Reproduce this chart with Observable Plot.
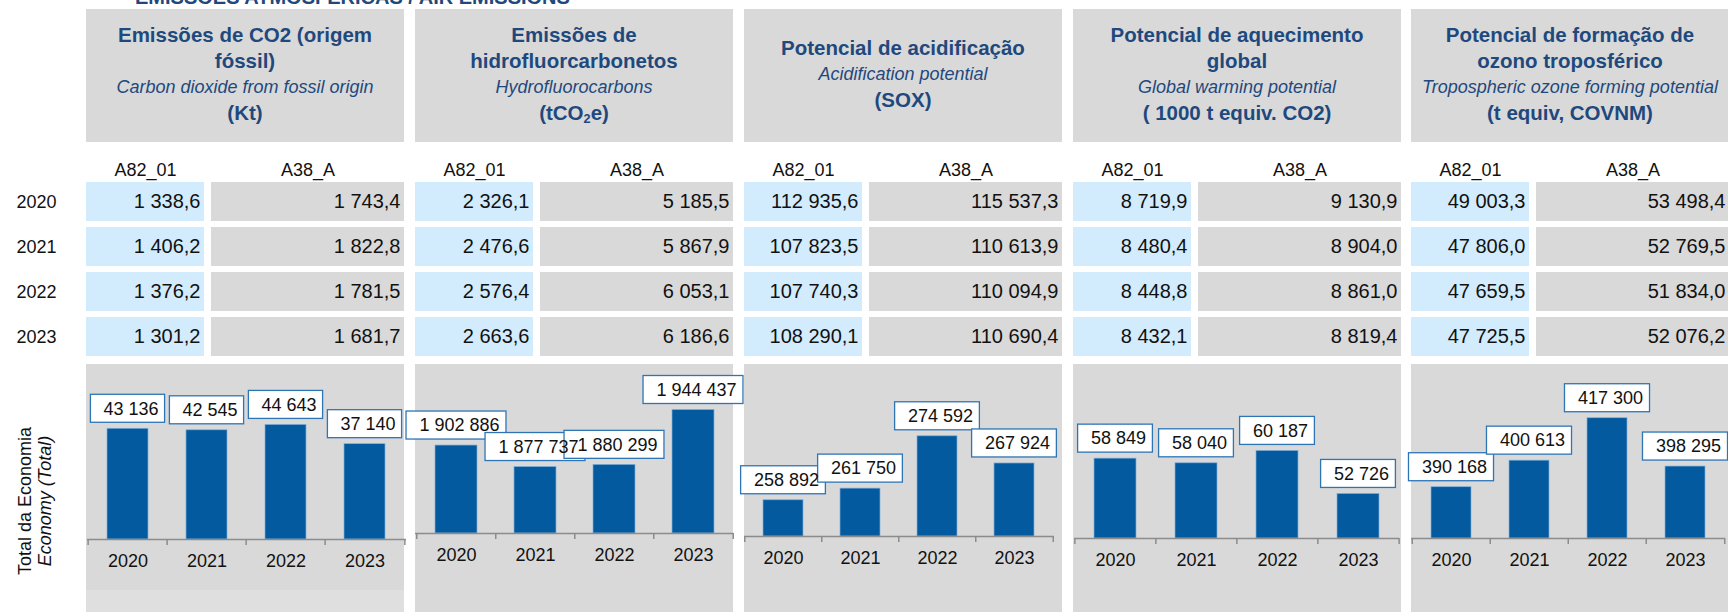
<!DOCTYPE html>
<html><head><meta charset="utf-8">
<script src="https://cdn.jsdelivr.net/npm/d3@7"></script>
<script src="https://cdn.jsdelivr.net/npm/@observablehq/plot@0.6"></script>
<style>
html,body{margin:0;padding:0;background:#fff;}
#root{position:relative;width:1728px;height:612px;overflow:hidden;font-family:"Liberation Sans",Arial,sans-serif;}
.abs{position:absolute;}
.abs svg{overflow:visible;max-width:none;}
.hdr{background:#d9d9d9;display:flex;flex-direction:column;justify-content:center;align-items:center;text-align:center;color:#1f497d;line-height:26px;box-sizing:border-box;padding-bottom:3px;}
.hdr .b{font-weight:bold;font-size:20.5px;white-space:nowrap;}
.hdr .i{font-style:italic;font-size:18px;white-space:nowrap;}
.hdr sub{font-size:0.62em;vertical-align:-0.25em;line-height:0;}
.title{font-weight:bold;font-size:20px;color:#1f497d;white-space:nowrap;}
.side{width:220px;line-height:20px;font-size:18px;text-align:center;color:#111;transform:rotate(-90deg);transform-origin:center center;}
</style></head><body><div id="root"></div>
<script>
// ---------- data ----------
const chartTitle = "EMISSÕES ATMOSFÉRICAS / AIR EMISSIONS";
const years = ["2020", "2021", "2022", "2023"];
const colLabels = ["A82_01", "A38_A"];
const titlePT = [
  ["Emissões de CO2 (origem", "fóssil)"],
  ["Emissões de", "hidrofluorcarbonetos"],
  ["Potencial de acidificação"],
  ["Potencial de aquecimento", "global"],
  ["Potencial de formação de", "ozono troposférico"]
];
const titleEN = ["Carbon dioxide from fossil origin", "Hydrofluorocarbons", "Acidification potential", "Global warming potential", "Tropospheric ozone forming potential"];
const units = ["(Kt)", "(tCO₂e)", "(SOX)", "( 1000 t equiv. CO2)", "(t equiv, COVNM)"];
const rowLabelPT = "Total da Economia";
const rowLabelEN = "Economy (Total)";

const a82_01 = [
  [1338.6, 1406.2, 1376.2, 1301.2],
  [2326.1, 2476.6, 2576.4, 2663.6],
  [112935.6, 107823.5, 107740.3, 108290.1],
  [8719.9, 8480.4, 8448.8, 8432.1],
  [49003.3, 47806.0, 47659.5, 47725.5]
];
const a38_A = [
  [1743.4, 1822.8, 1781.5, 1681.7],
  [5185.5, 5867.9, 6053.1, 6186.6],
  [115537.3, 110613.9, 110094.9, 110690.4],
  [9130.9, 8904.0, 8861.0, 8819.4],
  [53498.4, 52769.5, 51834.0, 52076.2]
];
const economyTotal = [
  [43136, 42545, 44643, 37140],
  [1902886, 1877737, 1880299, 1944437],
  [258892, 261750, 274592, 267924],
  [58849, 58040, 60187, 52726],
  [390168, 400613, 417300, 398295]
];
// hidden value-axis extents of each bar chart
const axisMin = [0, 1800000, 250000, 45000, 370000];
const axisMax = [60000, 2000000, 290000, 75000, 440000];

// ---------- layout / style ----------
const FONT = "'Liberation Sans', Arial, sans-serif";
const BAR = "#035a9e", AXIS = "#8c8c8c", GREY = "#d9d9d9", LBLUE = "#d3ecfd";
const panelX = [86, 415, 744, 1073, 1411];
const panelW = [318, 318, 318, 328, 318];
const axisX0 = [87, 415, 744, 1074, 1411];
const axisW = [319, 318, 310, 325, 314];
const baseY = [539, 533, 536, 538, 538];
const plotH = [154, 171, 163, 173, 178];
const barPad = [0.475, 0.47, 0.48, 0.48, 0.49];

const locale = d3.formatLocale({decimal: ",", thousands: " ", grouping: [3], currency: ["", ""]});
const fmt1 = locale.format(",.1f");
const fmt0 = locale.format(",d");

const root = document.getElementById("root");
function place(el, x, y, w, h) {
  el.classList.add("abs");
  el.style.left = x + "px"; el.style.top = y + "px";
  if (w != null) el.style.width = w + "px";
  if (h != null) el.style.height = h + "px";
  root.appendChild(el);
  return el;
}
const canvas = document.createElement("canvas");
const ctx = canvas.getContext("2d");
function textWidth(s, size) { ctx.font = size + "px 'Liberation Sans'"; return ctx.measureText(s).width; }

// title (cut at the top of the picture, as in the reference)
const t = document.createElement("div");
t.className = "title"; t.textContent = chartTitle;
place(t, 135, -14);

// header panels
titlePT.forEach((lines, i) => {
  const d = document.createElement("div");
  d.className = "hdr";
  lines.forEach(l => { const s = document.createElement("div"); s.className = "b"; s.textContent = l; d.appendChild(s); });
  const e = document.createElement("div"); e.className = "i"; e.textContent = titleEN[i]; d.appendChild(e);
  const u = document.createElement("div"); u.className = "b";
  u.innerHTML = units[i].replace("₂", "<sub>2</sub>");
  d.appendChild(u);
  place(d, panelX[i], 9, panelW[i], 133);
});

// table
const TTOP = 140, THEIGHT = 220;
function tableFrame(w, marks) {
  return Plot.plot({
    width: w, height: THEIGHT, marginTop: 41, marginBottom: 2, marginLeft: 0, marginRight: 0,
    style: {background: "transparent", fontFamily: FONT, overflow: "visible"},
    y: {type: "band", domain: years, paddingInner: 0.13, paddingOuter: 0, axis: null},
    marks
  });
}
{
  const p = tableFrame(86, [
    Plot.text(years, {y: d => d, text: d => d, frameAnchor: "left", textAnchor: "start", dx: 16, fontSize: 18, fill: "#111"})
  ]);
  const holder = document.createElement("div"); holder.appendChild(p);
  place(holder, 0, TTOP, 86, THEIGHT);
}
for (let i = 0; i < 5; i++) {
  const cols = [
    {label: colLabels[0], values: a82_01[i], fill: LBLUE, x: panelX[i], w: 118},
    {label: colLabels[1], values: a38_A[i], fill: GREY, x: panelX[i] + 125, w: panelW[i] - 125}
  ];
  for (const c of cols) {
    const rows = years.map((y, k) => ({year: y, value: c.values[k]}));
    const p = tableFrame(c.w, [
      Plot.cell(rows, {y: "year", fill: c.fill}),
      Plot.text(rows, {y: "year", text: d => fmt1(d.value), frameAnchor: "right", textAnchor: "end", dx: -4, fontSize: 20, fill: "#111"}),
      Plot.text([c.label], {text: d => d, frameAnchor: "top", dy: -18, fontSize: 18, fill: "#111"})
    ]);
    const holder = document.createElement("div"); holder.appendChild(p);
    place(holder, c.x, TTOP, c.w, THEIGHT);
  }
}

// bottom grey panels
for (let i = 0; i < 5; i++) {
  const bg = document.createElement("div");
  bg.style.background = i === 0 ? `linear-gradient(${GREY} 0, ${GREY} 226px, #dfdfdf 226px)` : GREY;
  place(bg, panelX[i], 364, panelW[i], 248);
}

// side label
{
  const s = document.createElement("div");
  s.className = "side";
  const a = document.createElement("div"); a.textContent = rowLabelPT;
  const b = document.createElement("div"); b.textContent = rowLabelEN; b.style.fontStyle = "italic";
  s.appendChild(a); s.appendChild(b);
  place(s, 35 - 110, 501 - 20);
}

// bar charts
const SVG_TOP = 330;
for (let i = 0; i < 5; i++) {
  const w = axisW[i], h = 612 - SVG_TOP;
  const p = barPad[i];
  const step = w / 4, bw = step * (1 - p);
  const perPx = (axisMax[i] - axisMin[i]) / plotH[i];   // value units per pixel
  const gap = 6, boxH = 28;
  const rows = years.map((y, k) => ({year: y, value: economyTotal[i][k]}));
  const base = () => axisMin[i];
  const boxes = rows.map(d => {
    const boxW = textWidth(fmt0(d.value), 18) + 20;
    const ins = (bw - boxW) / 2;
    return Plot.barY([d], {x: "year", y1: v => v.value + gap * perPx, y2: v => v.value + (gap + boxH) * perPx,
      insetLeft: ins, insetRight: ins, fill: "white", stroke: "#2e75b6", strokeWidth: 1.3});
  });
  const chart = Plot.plot({
    width: w, height: h,
    marginTop: baseY[i] - plotH[i] - SVG_TOP, marginBottom: 612 - baseY[i], marginLeft: 0, marginRight: 0,
    style: {background: "transparent", fontFamily: FONT, overflow: "visible"},
    x: {type: "band", domain: years, paddingInner: p, paddingOuter: p / 2, axis: null},
    y: {domain: [axisMin[i], axisMax[i]], axis: null, clamp: false},
    marks: [
      Plot.barY(rows, {x: "year", y1: base, y2: "value", fill: BAR, stroke: "#7fb0dc", strokeWidth: 0.7}),
      Plot.ruleY([axisMin[i]], {stroke: AXIS, strokeWidth: 1.5}),
      Plot.ruleX(years, {x: d => d, y1: base, y2: base, dx: -step / 2, insetBottom: -6, stroke: AXIS, strokeWidth: 1.5}),
      Plot.ruleX([years[years.length - 1]], {x: d => d, y1: base, y2: base, dx: step / 2, insetBottom: -6, stroke: AXIS, strokeWidth: 1.5}),
      ...boxes,
      Plot.text(rows, {x: "year", y: "value", text: d => fmt0(d.value), dy: -(gap + boxH / 2), dx: 3, fontSize: 18, fill: "#111"}),
      Plot.text(rows, {x: "year", y: base, text: "year", dy: 22, fontSize: 18, fill: "#111"})
    ]
  });
  const holder = document.createElement("div"); holder.appendChild(chart);
  place(holder, axisX0[i], SVG_TOP, w, h);
}
</script>
</body></html>
